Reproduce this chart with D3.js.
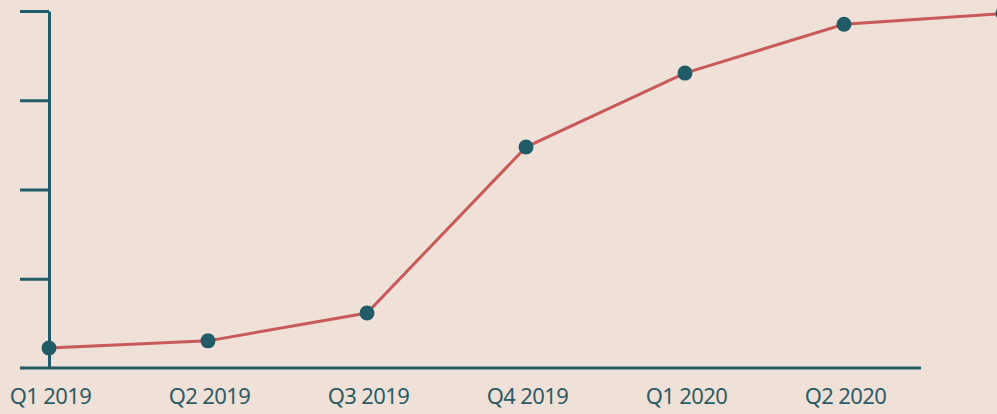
<!DOCTYPE html>
<html>
<head>
<meta charset="utf-8">
<script src="https://cdn.jsdelivr.net/npm/d3@7"></script>
<style>
  html, body { margin: 0; padding: 0; background: #efe1d7; }
  #chart { width: 997px; height: 414px; }
</style>
</head>
<body>
<div id="chart"></div>
<script>
(function () {
   // quarters shown on the x axis (the last one sits just off the right edge)
   const quarters = ['Q1 2019', 'Q2 2019', 'Q3 2019', 'Q4 2019', 'Q1 2020', 'Q2 2020', 'Q3 2020']
   const labelled = ['Q1 2019', 'Q2 2019', 'Q3 2019', 'Q4 2019', 'Q1 2020', 'Q2 2020']
   // estimated values, unlabelled scale of 0-100
   const values = [5.6, 7.6, 15.4, 61.9, 82.6, 96.3, 99.3]
   const yTicks = [25, 50, 75, 100]

   const teal = '#215b67'
   const red = '#c95a5a'

   const width = 997, height = 414

   const svg = d3.select('#chart')
      .append('svg')
      .attr('width', width)
      .attr('height', height)

   // point scale - spacing of about 159px between quarters
   const x = d3.scalePoint()
      .domain(quarters)
      .range([49, 49 + 159 * (quarters.length - 1)])

   const y = d3.scaleLinear()
      .domain([0, 100])
      .range([368, 11])

   // left axis with ticks but no labels
   const yAxis = svg.append('g')
      .attr('transform', 'translate(49,0)')
      .call(d3.axisLeft(y).tickValues(yTicks).tickSize(29).tickSizeOuter(0).tickFormat(''))
   yAxis.selectAll('path, line')
      .attr('stroke', teal)
      .attr('stroke-width', 3)

   // baseline
   svg.append('line')
      .attr('x1', 20)
      .attr('x2', 921)
      .attr('y1', y(0))
      .attr('y2', y(0))
      .attr('stroke', teal)
      .attr('stroke-width', 3)

   // quarter labels
   const xAxis = svg.append('g')
      .attr('transform', `translate(0,${y(0)})`)
      .call(d3.axisBottom(x).tickValues(labelled).tickSize(0).tickPadding(20))
   xAxis.select('.domain').remove()
   xAxis.selectAll('text')
      .attr('fill', '#2c5c66')
      .attr('dx', 1)
      .style('font-family', '"Noto Sans", "Open Sans", sans-serif')
      .style('font-size', '22px')
      .style('letter-spacing', '-0.6px')

   const points = quarters.map((q, i) => ({ q: q, v: values[i] }))

   const line = d3.line()
      .x(d => x(d.q))
      .y(d => y(d.v))

   svg.append('path')
      .datum(points)
      .attr('d', line)
      .attr('fill', 'none')
      .attr('stroke', red)
      .attr('stroke-width', 3)

   svg.append('g')
      .selectAll('circle')
      .data(points)
      .join('circle')
      .attr('cx', d => x(d.q))
      .attr('cy', d => y(d.v))
      .attr('r', 7.5)
      .attr('fill', teal)
})();
</script>
</body>
</html>
